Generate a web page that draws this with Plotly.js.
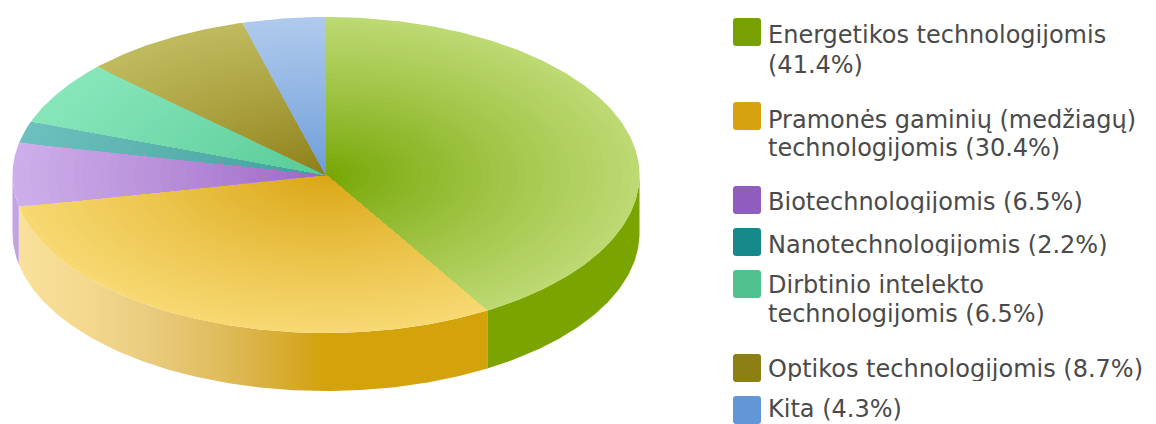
<!DOCTYPE html>
<html lang="lt">
<head>
<meta charset="utf-8">
<script src="https://cdn.plot.ly/plotly-3.0.1.min.js"></script>
<style>html,body{margin:0;padding:0;background:#fff;overflow:hidden}#chart{width:1156px;height:424px}</style>
</head>
<body>
<div id="chart"></div>
<script>
// Technology areas and their shares, in percent
const categories = [
  'Energetikos technologijomis',
  'Pramonės gaminių (medžiagų)|technologijomis',
  'Biotechnologijomis',
  'Nanotechnologijomis',
  'Dirbtinio intelekto|technologijomis',
  'Optikos technologijomis',
  'Kita'
];
const shares = [41.4, 30.4, 6.5, 2.2, 6.5, 8.7, 4.3];
const shareOnOwnRow = [true, false, false, false, false, false, false];

// Slice colours: full tone at the hub, lighter tone at the rim, legend key, side wall
const hubColors = ['#74a400', '#d8a410', '#9a62c2', '#3f9c9a', '#55c896', '#8a7c12', '#6a9ad8'];
const rimColors = ['#bcd972', '#f7d871', '#cdaeea', '#6cc0bd', '#86e6ba', '#c0ba5e', '#aec9ec'];
const keyColors = ['#76a100', '#d6a20f', '#8e5dbd', '#168a8a', '#4fc28f', '#8c8014', '#6296d6'];
const wallColors = ['#7aa400', '#d4a20a', '#c3a4e2', '#3f9c9a', '#55c896', '#8a7c12', '#6a9ad8'];

// Pie drawn as a tilted disc
const hub = {x: 326, y: 175};
const radiusX = 313.5;
const radiusY = 158;
const discDepth = 58;
const ringCount = 36;

// Legend placement
const keyLeft = 733, keySize = 28, keyCorner = 3, labelLeft = 768;
const keyTops = [18, 102, 186, 228, 270, 354, 396];
const labelRowMiddles = [37, 67, 122, 150, 204, 247, 287, 316, 371, 411];
const labelStrips = [[213, 227], [256, 269], [381, 395]];

const toRad = d => d * Math.PI / 180;
const rimX = (a, k) => hub.x + radiusX * k * Math.sin(toRad(a));
const rimY = (a, k) => hub.y - radiusY * k * Math.cos(toRad(a));

function arcAngles(from, to) {
  const out = [];
  const n = Math.max(2, Math.ceil((to - from) / 0.75));
  for (let i = 0; i <= n; i++) out.push(from + (to - from) * i / n);
  return out;
}

function hex(c) {
  return [1, 3, 5].map(i => parseInt(c.slice(i, i + 2), 16));
}
function mix(a, b, t) {
  const p = hex(a), q = hex(b);
  return 'rgb(' + p.map((v, i) => Math.round(v + (q[i] - v) * t)).join(',') + ')';
}

const polygon = (xs, ys, extra) => Object.assign({
  type: 'scatter', mode: 'lines', x: xs, y: ys, fill: 'toself',
  line: {width: 0}, hoverinfo: 'skip', showlegend: false
}, extra);

// Cumulative slice boundaries, clockwise from twelve o'clock
const bounds = [0];
shares.forEach(s => bounds.push(bounds[bounds.length - 1] + s * 3.6));

const traces = [];

// Side wall: only the part of each slice on the near half of the disc shows
shares.forEach((s, i) => {
  const from = Math.max(bounds[i], 90);
  const to = Math.min(bounds[i + 1], 270);
  if (to <= from) return;
  const arc = arcAngles(from, to);
  const xs = arc.map(a => rimX(a, 1));
  const ys = arc.map(a => rimY(a, 1));
  const back = arc.slice().reverse();
  const wall = {fillcolor: wallColors[i]};
  if (i === 1) {
    // The long front wall catches the light towards the left
    wall.fillgradient = {
      type: 'horizontal', start: rimX(bounds[2], 1), stop: hub.x,
      colorscale: [[0, '#f9e19c'], [0.22, '#f3d88e'], [0.45, '#e8ca7c'], [0.72, '#dcb751'], [0.92, '#d5a722'], [1, '#d4a20a']]
    };
  }
  traces.push(polygon(
    xs.concat(back.map(a => rimX(a, 1))),
    ys.concat(back.map(a => rimY(a, 1) + discDepth)),
    wall
  ));
});

// Top face: each slice shaded from the hub out by stacking shrinking sectors
shares.forEach((s, i) => {
  const arc = arcAngles(bounds[i], bounds[i + 1]);
  for (let r = ringCount; r >= 1; r--) {
    const k = r / ringCount;
    traces.push(polygon(
      [hub.x].concat(arc.map(a => rimX(a, k)), hub.x),
      [hub.y].concat(arc.map(a => rimY(a, k)), hub.y),
      {fillcolor: mix(hubColors[i], rimColors[i], Math.pow(k, 0.85))}
    ));
  }
});

// Legend rows, with each share taken from the same values as the slices
const labelRows = categories.flatMap((c, i) => {
  const share = '(' + shares[i].toFixed(1) + '%)';
  const rows = c.split('|');
  if (shareOnOwnRow[i]) rows.push(share);
  else rows[rows.length - 1] += ' ' + share;
  return rows;
});
traces.push({
  type: 'scatter', mode: 'text',
  x: labelRows.map(() => labelLeft), y: labelRowMiddles, text: labelRows,
  textposition: 'middle right',
  textfont: {family: '"DejaVu Sans", sans-serif', size: 24, color: '#4a4a4a'},
  hoverinfo: 'skip', showlegend: false, cliponaxis: false
});

const roundedKey = (x, y, s, c) =>
  `M${x + c},${y}H${x + s - c}Q${x + s},${y} ${x + s},${y + c}V${y + s - c}Q${x + s},${y + s} ${x + s - c},${y + s}` +
  `H${x + c}Q${x},${y + s} ${x},${y + s - c}V${y + c}Q${x},${y} ${x + c},${y}Z`;

const shapes = keyColors.map((color, i) => ({
  type: 'path', xref: 'x', yref: 'y', layer: 'above',
  path: roundedKey(keyLeft, keyTops[i], keySize, keyCorner),
  fillcolor: color, line: {width: 0}
}));

// Tight legend rows: the row below hides the descenders of the row above
labelStrips.forEach(([top, bottom]) => shapes.push({
  type: 'rect', xref: 'x', yref: 'y', layer: 'above',
  x0: labelLeft - 3, x1: 1156, y0: top, y1: bottom,
  fillcolor: '#ffffff', line: {width: 0}
}));

const hiddenAxis = range => ({
  range: range, visible: false, fixedrange: true, showgrid: false, zeroline: false
});

Plotly.newPlot('chart', traces, {
  width: 1156, height: 424,
  margin: {l: 0, r: 0, t: 0, b: 0},
  paper_bgcolor: '#ffffff', plot_bgcolor: '#ffffff',
  xaxis: hiddenAxis([0, 1156]),
  yaxis: hiddenAxis([424, 0]),
  shapes: shapes,
  showlegend: false
}, {displayModeBar: false, staticPlot: true});
</script>
</body>
</html>
